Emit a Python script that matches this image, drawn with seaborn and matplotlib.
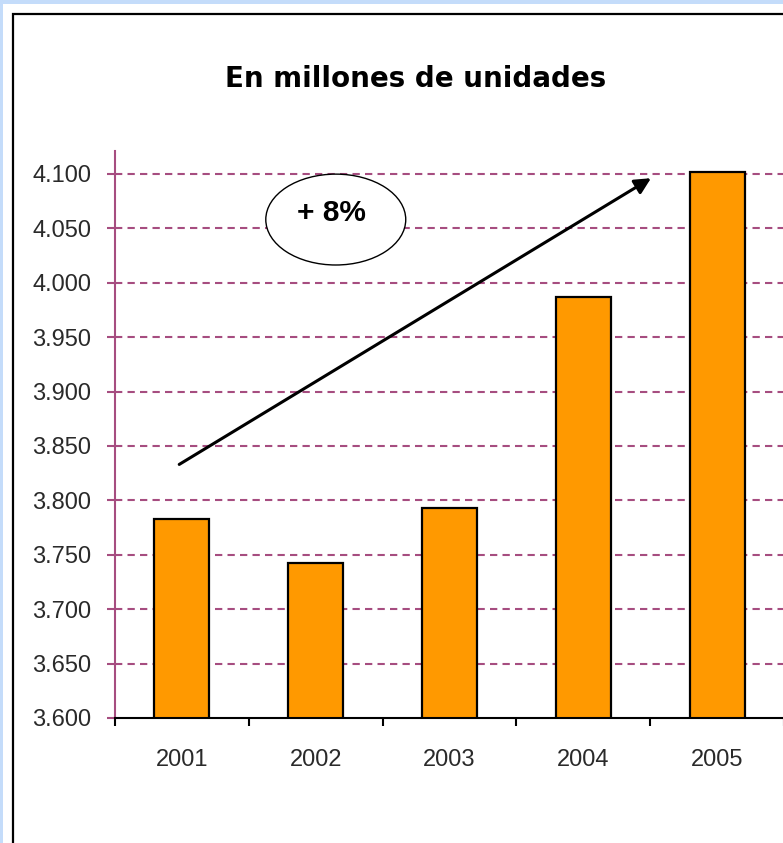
import matplotlib
matplotlib.use("Agg")
import matplotlib.pyplot as plt
import seaborn as sns
import pandas as pd
from matplotlib.patches import Ellipse, Rectangle

# ---- data ----
years = ["2001", "2002", "2003", "2004", "2005"]
values = [3783, 3742, 3793, 3987, 4102]
y_ticks = [3600, 3650, 3700, 3750, 3800, 3850, 3900, 3950, 4000, 4050, 4100]
y_labels = [f"{v:,}".replace(",", ".") for v in y_ticks]
title = "En millones de unidades"
growth_label = "+ 8%"

sns.set_theme(style="white")
plt.rcParams["font.family"] = ["Liberation Sans", "DejaVu Sans"]

W, H = 783, 843
fig = plt.figure(figsize=(W / 100, H / 100), dpi=100)
fig.patch.set_facecolor("#c4dcfa")
# white sheet and black chart frame
fig.patches.append(Rectangle((3 / W, 0), 1, 1 - 4 / H, transform=fig.transFigure,
                             facecolor="white", edgecolor="none", zorder=-5))
fig.patches.append(Rectangle((12.5 / W, -0.1), 1, 1.1 - 14 / H, transform=fig.transFigure,
                             facecolor="none", edgecolor="black", linewidth=1.6, zorder=-4))

ax = fig.add_axes([115 / W, 1 - 718 / H, (784 - 115) / W, (718 - 151) / H])
ax.set_zorder(2)
ax.set_facecolor("none")

df = pd.DataFrame({"year": years, "value": values})
sns.barplot(data=df, x="year", y="value", color="#ff9900", saturation=1,
            edgecolor="black", linewidth=1.6, width=0.41, ax=ax, zorder=3)

ax.set_xlim(-0.5, 4.5)
ax.set_ylim(3600, 4121)
ax.set_yticks(y_ticks)
ax.set_yticklabels(y_labels)
ax.set_xlabel("")
ax.set_ylabel("")

grid_col = "#a64d80"
for v in y_ticks[1:]:
    ax.axhline(v, color=grid_col, linestyle=(0, (3.5, 2.5)), linewidth=1.5, zorder=1)

for s in ["top", "right"]:
    ax.spines[s].set_visible(False)
ax.spines["left"].set_color(grid_col)
ax.spines["left"].set_linewidth(1.5)
ax.spines["bottom"].set_color("black")
ax.spines["bottom"].set_linewidth(1.5)
ax.spines["bottom"].set_zorder(4)

ax.tick_params(axis="y", direction="out", length=6, width=1.5, color=grid_col,
               pad=11, labelsize=17, labelcolor="#2a2a2a", left=True)
ax.tick_params(axis="x", which="major", length=0, pad=22, labelsize=17,
               labelcolor="#2a2a2a", bottom=True)
ax.set_xticks([i - 0.5 for i in range(len(years) + 1)], minor=True)
ax.tick_params(axis="x", which="minor", direction="out", length=6, width=1.5,
               color="black", bottom=True)

# growth arrow and ellipse annotation
ax.annotate("", xy=(3.506, 4096), xytext=(-0.02, 3833),
            arrowprops=dict(arrowstyle="-|>,head_length=0.8,head_width=0.4",
                            color="black", lw=2.2, shrinkA=0, shrinkB=0),
            zorder=5, annotation_clip=False)
ax.add_patch(Ellipse((1.15, 4058), 1.046, 83.5, facecolor="white",
                     edgecolor="black", linewidth=1.0, zorder=5))
ax.text(1.12, 4064, growth_label, ha="center", va="center", fontsize=21.5,
        fontweight="bold", color="black", zorder=6)

fig.text(416 / W, 1 - 79 / H, title, ha="center", va="center", fontsize=20,
         fontweight="bold", family=["DejaVu Sans"], color="black")

fig.savefig("out.png", dpi=100)
